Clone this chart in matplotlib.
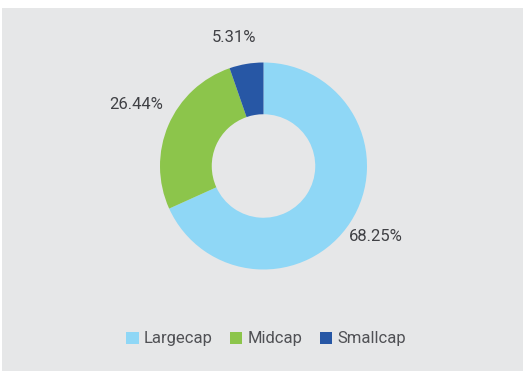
import numpy as np
import matplotlib.pyplot as plt
from matplotlib.patches import Rectangle, Patch

plt.rcParams['font.family'] = ['Roboto', 'DejaVu Sans']

labels = ["Largecap", "Midcap", "Smallcap"]
shares = [68.25, 26.44, 5.31]
colors = ["#8fd7f6", "#8cc54b", "#2757a5"]
bg = "#e6e7e8"

W, H = 528, 371
fig = plt.figure(figsize=(W / 100, H / 100), dpi=100, facecolor="white")
# grey panel with a thin white margin
fig.patches.append(Rectangle((2 / W, 0), 521 / W, 363 / H, transform=fig.transFigure,
                             facecolor=bg, edgecolor="none", zorder=-10))

k = 1.6
r_px = 103.5
size = 2 * k * r_px
cx, cy = 263.5, H - 166
ax = fig.add_axes([(cx - size / 2) / W, (cy - size / 2) / H, size / W, size / H])
ax.set_facecolor("none")
ax.axis("off")

wedges, _ = ax.pie(shares, colors=colors, startangle=90, counterclock=False,
                   radius=1, wedgeprops=dict(width=0.5, edgecolor="none"))
ax.set_xlim(-k, k)
ax.set_ylim(-k, k)
ax.set_aspect("equal")

# label distance / angle nudge (degrees) per slice
dist = [1.285, 1.36, 1.27]
nudge = [0.6, -2.4, 3.2]
for w, val, d, n in zip(wedges, shares, dist, nudge):
    ang = np.deg2rad((w.theta1 + w.theta2) / 2 + n)
    ax.text(d * np.cos(ang), d * np.sin(ang), f"{val:.2f}%", ha="center", va="center",
            fontsize=12, color="#404145")

handles = [Patch(facecolor=c, edgecolor="none") for c in colors]
fig.legend(handles, labels, loc="center", bbox_to_anchor=(266 / W, 32 / H), ncol=3,
           frameon=False, fontsize=12, labelcolor="#505155", handlelength=0.75,
           handleheight=0.75, handletextpad=0.3, columnspacing=1.05)

fig.savefig("out.png", dpi=100, facecolor="white")
